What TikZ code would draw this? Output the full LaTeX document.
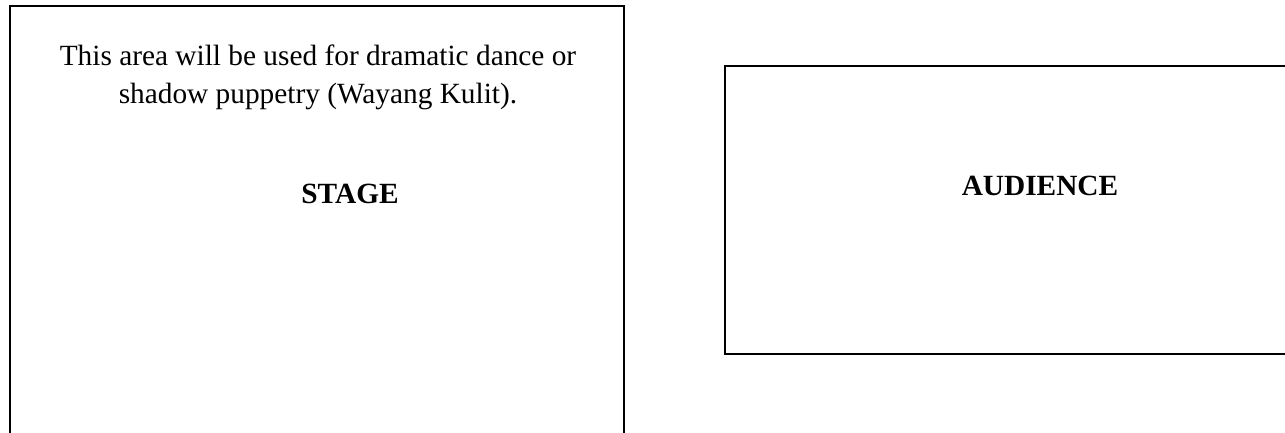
\documentclass[tikz,border=0pt]{standalone}
\usepackage{fontspec}
\setmainfont{Liberation Serif}
\begin{document}
\begin{tikzpicture}[x=0.75pt,y=-0.75pt,
  area/.style={draw=black,line width=1.8pt},
  lbl/.style={font=\fontsize{22}{28.5}\selectfont,align=center,inner sep=0pt},
  head/.style={font=\fontsize{22}{28.5}\selectfont\bfseries,inner sep=0pt}]
\useasboundingbox (0,0) rectangle (1285,432);
\clip (0,0) rectangle (1285,432);
\fill[white] (0,0) rectangle (1285,432);
\draw[area] (10,6) rectangle (624,460);
\draw[area] (725,66) rectangle (1310,354);
\node[lbl,anchor=base] (note) at (318,103) {This area will be used for dramatic dance or\\shadow puppetry (Wayang Kulit).};
\node[head,anchor=base] (stage) at (350,203) {STAGE};
\node[head,anchor=base] (aud) at (1040,195) {AUDIENCE};
\end{tikzpicture}
\end{document}
